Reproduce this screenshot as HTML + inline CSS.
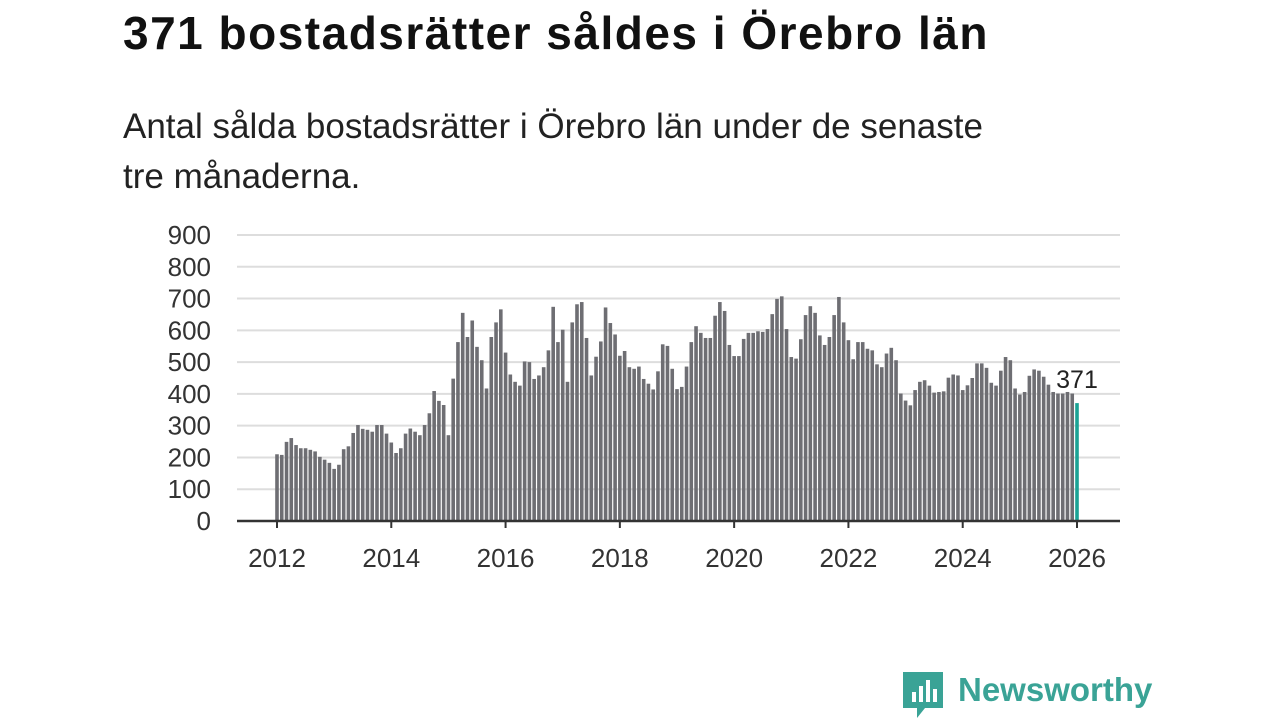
<!DOCTYPE html>
<html><head><meta charset="utf-8"><style>
body{margin:0;width:1280px;height:720px;background:#fff;font-family:"Liberation Sans",sans-serif;overflow:hidden;position:relative}
#title{position:absolute;left:123px;top:6px;font-size:46px;letter-spacing:1.5px;font-weight:bold;color:#111;margin:0;white-space:nowrap}
#sub{position:absolute;left:123px;top:102px;font-size:35px;line-height:50px;color:#222;width:890px;margin:0}
svg{position:absolute;left:0;top:0}
</style></head><body>
<h1 id="title">371 bostadsrätter såldes i Örebro län</h1>
<p id="sub">Antal sålda bostadsrätter i Örebro län under de senaste tre månaderna.</p>
<svg id="chart" width="1280" height="720"></svg>
<div style="position:absolute;left:903px;top:672px;">
<svg width="40" height="46" style="position:static"><path d="M0 0H40V36H22L14 46V36H0Z" fill="#3aa396"/><rect x="9" y="20" width="4" height="10" fill="#fff"/><rect x="16" y="14" width="4" height="16" fill="#fff"/><rect x="23" y="8" width="4" height="22" fill="#fff"/><rect x="30" y="17" width="4" height="13" fill="#fff"/></svg>
<span style="position:absolute;left:55px;top:-1px;font-size:33px;font-weight:bold;color:#3aa396;white-space:nowrap">Newsworthy</span></div>
<script>
const values=[210,208,249,261,239,229,229,224,219,202,193,183,164,177,226,235,277,302,290,287,281,302,302,275,247,214,229,275,291,281,270,302,339,409,378,365,270,448,563,655,579,631,548,506,417,579,625,666,530,461,438,426,502,500,447,458,484,537,674,563,602,438,625,682,689,576,458,517,565,672,623,587,520,535,484,479,486,447,432,414,471,556,551,479,415,422,486,563,613,592,576,576,646,689,661,554,519,519,573,592,592,597,595,604,651,699,707,604,516,511,572,648,676,655,584,554,579,648,705,625,569,509,563,563,542,537,493,484,527,545,506,401,379,364,412,438,443,426,404,406,408,451,461,458,412,427,450,496,496,482,435,426,473,516,506,417,398,406,457,477,473,454,429,406,401,401,406,401,371];
const yTicks=[0,100,200,300,400,500,600,700,800,900];
const xTicks=[2012,2014,2016,2018,2020,2022,2024,2026];
const startYear=2012;
const svg=document.getElementById('chart');const NS='http://www.w3.org/2000/svg';
const y=v=>521-v*(286/900);
const x=i=>277+i*(800/168);
const xy=yr=>x((yr-startYear)*12);
function mk(t,a){const e=document.createElementNS(NS,t);for(const k in a)e.setAttribute(k,a[k]);svg.appendChild(e);return e;}
yTicks.forEach(v=>{
 if(v>0){const g=mk('line',{x1:237,x2:1120,y1:y(v),y2:y(v),stroke:'#ddd','stroke-width':2});
 
 }
 const t=mk('text',{x:211,y:y(v)+9,'text-anchor':'end','font-size':26,fill:'#333','font-family':'Liberation Sans, sans-serif'});t.textContent=v;
 
 
});
values.forEach((v,i)=>{
 const last=i===values.length-1;
 const r=mk('rect',{x:x(i)-1.8,y:y(v),width:3.6,height:521-y(v),fill:last?'#1aa395':'#6e6e73'});
 
 
});
const ax=mk('line',{x1:237,x2:1120,y1:521,y2:521,stroke:'#333','stroke-width':2.5});


xTicks.forEach(yr=>{
 const tk=mk('line',{x1:xy(yr),x2:xy(yr),y1:521,y2:528,stroke:'#333','stroke-width':2});
 
 
 const t=mk('text',{x:xy(yr),y:567,'text-anchor':'middle','font-size':26,fill:'#333','font-family':'Liberation Sans, sans-serif'});t.textContent=yr;
 
 
});
const li=values.length-1;
const lb=mk('text',{x:x(li),y:y(values[li])-15,'text-anchor':'middle','font-size':25,fill:'#222',stroke:'#fff','stroke-width':5,'paint-order':'stroke','font-family':'Liberation Sans, sans-serif'});
lb.textContent=values[li];


</script>
</body></html>
